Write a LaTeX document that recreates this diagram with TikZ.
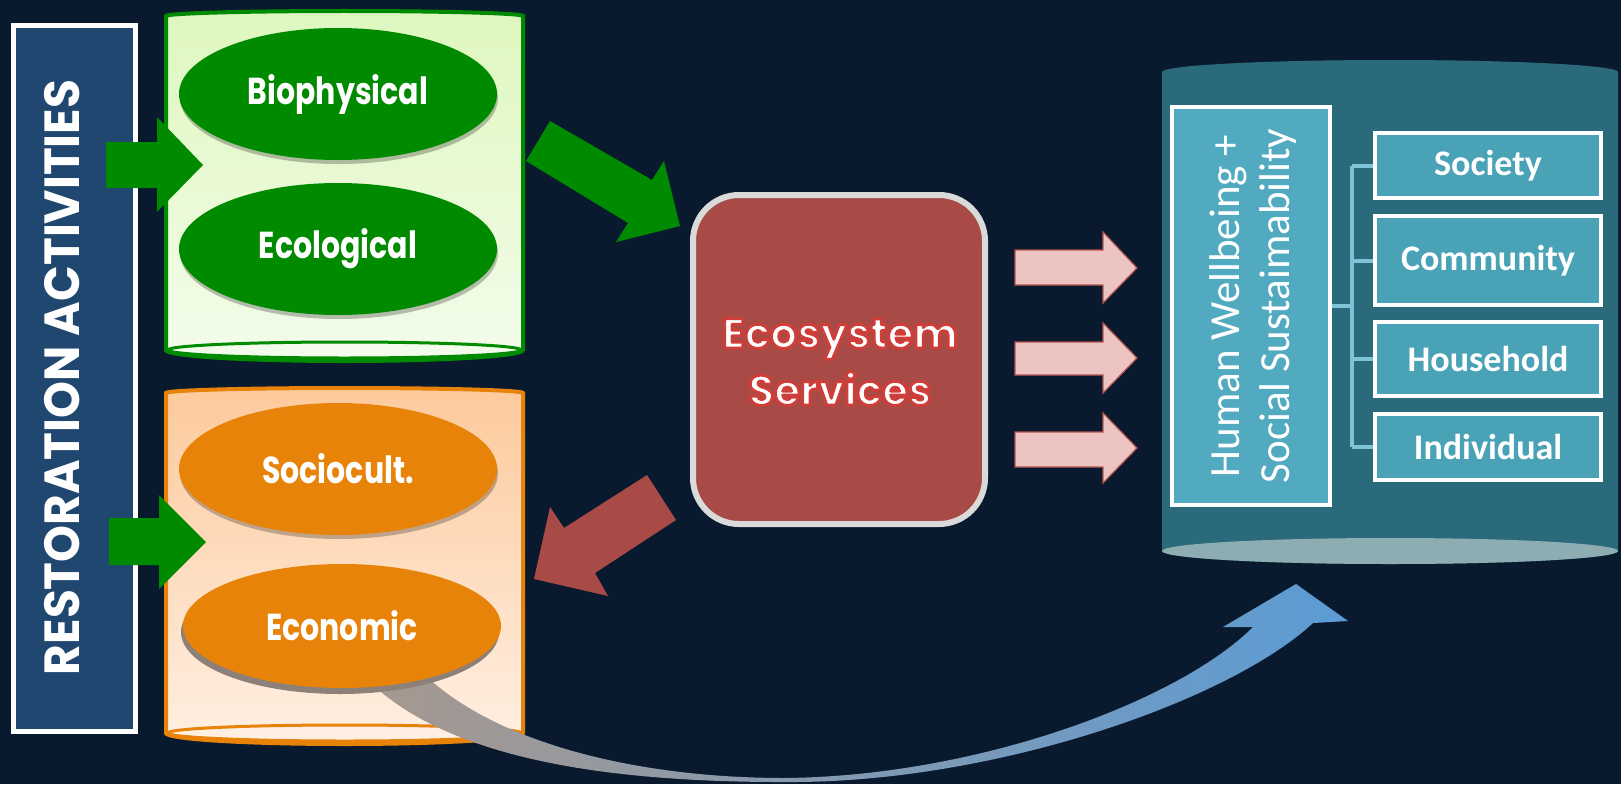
\documentclass[tikz,border=0pt]{standalone}
\usepackage{fontspec}
\usepackage{graphicx}
\usetikzlibrary{shapes.geometric}
\newfontfamily\popp{Poppins}
\newfontfamily\carl{Carlito}
\definecolor{bg}{RGB}{10,26,46}
\definecolor{restblue}{RGB}{31,71,111}
\definecolor{gr}{RGB}{0,138,0}
\definecolor{gtop}{RGB}{222,247,190}
\definecolor{gbot}{RGB}{243,252,235}
\definecolor{og}{RGB}{232,131,10}
\definecolor{otop}{RGB}{253,202,156}
\definecolor{obot}{RGB}{255,239,226}
\definecolor{ecored}{RGB}{168,75,70}
\definecolor{ecoborder}{RGB}{218,218,218}
\definecolor{pinkfill}{RGB}{236,197,195}
\definecolor{pinkdraw}{RGB}{181,82,78}
\definecolor{teal}{RGB}{42,106,122}
\definecolor{tealbot}{RGB}{142,173,179}
\definecolor{hwblue}{RGB}{82,170,192}
\definecolor{lvlblue}{RGB}{74,162,182}
\definecolor{connblue}{RGB}{126,196,217}
\definecolor{greyb}{RGB}{168,152,142}
\definecolor{blueb}{RGB}{91,155,213}
\definecolor{ecoshadow}{RGB}{140,128,120}
\newcommand\outl[1]{\special{pdf:literal direct 2 Tr 2.8 w 1 j 0.82 0.24 0.22 RG}#1\special{pdf:literal direct 0 Tr}}
\begin{document}
\begin{tikzpicture}[x=1pt,y=-1pt,
  ell/.style={ellipse, minimum width=318, minimum height=132, inner sep=0, text=white,
    font=\popp\bfseries\fontsize{30}{34}\selectfont},
  ellshadow/.style={fill=black, opacity=0.25},
  lvl/.style={draw=white, line width=4pt, fill=lvlblue, minimum width=226, inner sep=0,
    text=white, font=\carl\bfseries\fontsize{36}{40}\selectfont},
  conn/.style={draw=connblue, line width=4pt},
  blockgreen/.style={fill=gr},
  blockpink/.style={fill=pinkfill, draw=pinkdraw, line width=1.2pt},
]
\fill[bg] (0,0) rectangle (1621,784);
\useasboundingbox (0,0) rectangle (1621,784);

% restoration box
\node[draw=white, line width=5pt, fill=restblue, minimum width=122, minimum height=706, inner sep=0] (rest) at (74.5,378.5) {};
\node[rotate=90, text=white, inner sep=0, font=\popp\bfseries\fontsize{47}{50}\selectfont] (resttxt) at (62,377.5) {\scalebox{1}[1.05]{RESTORATION ACTIVITIES}};

% green cylinder
\path[top color=gtop, bottom color=gbot, draw=gr, line width=4pt]
  (166,16) arc[start angle=180,end angle=360,x radius=178.5,y radius=5]
  -- (523,350) arc[start angle=0,end angle=180,x radius=178.5,y radius=11] -- cycle;
\draw[draw=gr, line width=3pt, fill=gbot] (344.5,350) ellipse[x radius=176.5, y radius=8];

% orange cylinder
\path[top color=otop, bottom color=obot, draw=og, line width=4pt]
  (166,393) arc[start angle=180,end angle=360,x radius=178.5,y radius=5]
  -- (523,733) arc[start angle=0,end angle=180,x radius=178.5,y radius=11] -- cycle;
\draw[draw=og, line width=3pt, fill=obot] (344.5,733) ellipse[x radius=176.5, y radius=8];

% curved arrow economic -> wellbeing
\shade[left color=greyb, right color=blueb]
  (360,672) .. controls (440,760) and (610,783) .. (795,782)
  .. controls (1000,781) and (1230,700) .. (1313,623)
  -- (1348,621) -- (1296,584) -- (1223,627) -- (1253,627)
  .. controls (1180,700) and (980,776) .. (785,778)
  .. controls (630,778) and (490,740) .. (422,672) -- cycle;

% ellipses
\fill[ellshadow] (339,98) ellipse[x radius=159, y radius=66];
\fill[ellshadow] (339,253) ellipse[x radius=159, y radius=66];
\fill[ellshadow] (339,473) ellipse[x radius=159, y radius=66];
\node[ell, fill=gr] (bio) at (338,94) {\scalebox{1}[1.25]{Biophysical}};
\node[ell, fill=gr] (ecol) at (338,249) {\scalebox{1}[1.25]{Ecological}};
\node[ell, fill=og] (soc) at (338,469) {\scalebox{1}[1.25]{Sociocult.}};
\fill[ecoshadow] (340,632) ellipse[x radius=159, y radius=62];
\node[ell, fill=og, minimum height=124] (econ) at (342,626) {\scalebox{1}[1.25]{Economic}};

% green arrows
\fill[blockgreen] (106,142) -- (157,142) -- (157,117) -- (203,165) -- (157,212) -- (157,188) -- (106,188) -- cycle;
\fill[blockgreen] (109,518) -- (159,518) -- (159,495) -- (206,542) -- (159,589) -- (159,565) -- (109,565) -- cycle;
\fill[blockgreen] (550,121) -- (652,180) -- (664,161) -- (680,226) -- (616,242) -- (628,223) -- (526,161) -- cycle;

% ecosystem services
\node[draw=ecoborder, line width=6pt, fill=ecored, rounded corners=46pt, minimum width=292, minimum height=329, inner sep=0] (eco) at (839,359.5) {};
\node[text=white, align=center, inner sep=0, font=\popp\bfseries\fontsize{42}{57}\selectfont] (ecotxt) at (840,362) {\outl{Ecosystem}\\\outl{Services}};

% red arrow
\fill[ecored] (647,475) -- (676,520) -- (595,573) -- (608,596) -- (534,579) -- (550,507) -- (564,528) -- cycle;

% pink arrows
\path[blockpink] (1015,250) -- (1103,250) -- (1103,232) -- (1137,268) -- (1103,303) -- (1103,285) -- (1015,285) -- cycle;
\path[blockpink] (1015,342) -- (1103,342) -- (1103,323) -- (1137,358) -- (1103,393) -- (1103,375) -- (1015,375) -- cycle;
\path[blockpink] (1015,432) -- (1103,432) -- (1103,413) -- (1137,448) -- (1103,483) -- (1103,467) -- (1015,467) -- cycle;

% teal cylinder
\fill[teal]
  (1162,72) arc[start angle=180,end angle=360,x radius=228,y radius=12]
  -- (1618,551) arc[start angle=0,end angle=180,x radius=228,y radius=13] -- cycle;
\fill[tealbot] (1390,551) ellipse[x radius=228, y radius=13];

% human wellbeing
\node[draw=white, line width=4pt, fill=hwblue, minimum width=158, minimum height=398, inner sep=0] (hw) at (1251,306) {};
\node[rotate=90, text=white, align=center, inner sep=0, font=\carl\fontsize{43}{50}\selectfont] (hwtxt) at (1253,306) {Human Wellbeing +\\Social Sustaimability};

% levels
\node[lvl, minimum height=65] (society) at (1488,165.5) {Society};
\node[lvl, minimum height=89] (community) at (1488,260.5) {Community};
\node[lvl, minimum height=74] (household) at (1488,359) {Household};
\node[lvl, minimum height=66] (individual) at (1488,447) {Individual};

\coordinate (trunk) at (1352,306);
\draw[conn] (hw.east) -- (trunk);
\draw[conn] (trunk|-society.west) -- (trunk|-individual.west);
\draw[conn] (trunk|-society.west) -- (society.west);
\draw[conn] (trunk|-community.west) -- (community.west);
\draw[conn] (trunk|-household.west) -- (household.west);
\draw[conn] (trunk|-individual.west) -- (individual.west);
\end{tikzpicture}
\end{document}
